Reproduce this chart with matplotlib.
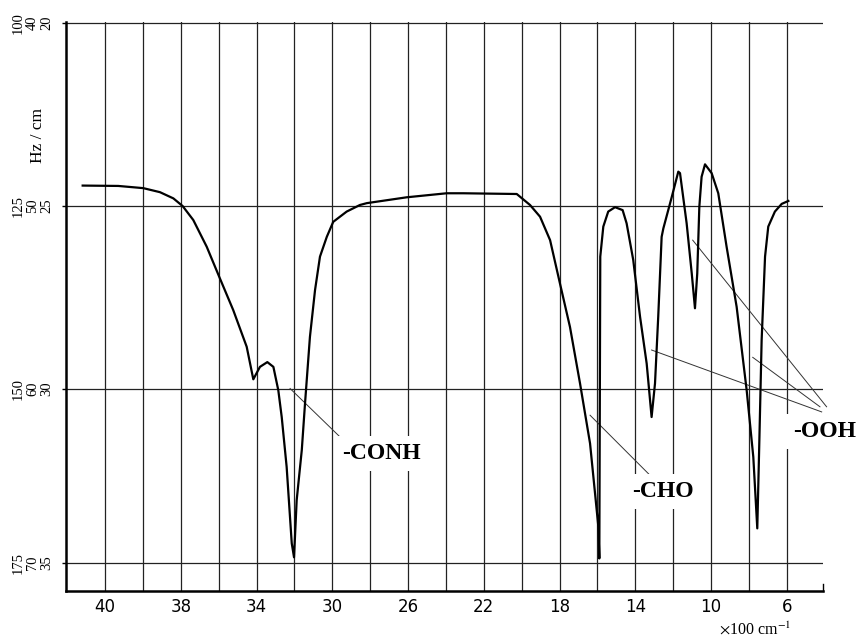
import matplotlib
matplotlib.use("Agg")
import matplotlib.pyplot as plt

# trace (x in axis units, y on the 20..35 scale, down = absorption)
wave = [43.18, 41.30, 39.98, 39.10, 38.39, 37.90, 37.34, 36.63, 35.97, 35.23,
        34.52, 34.17, 33.82, 33.43, 33.11, 32.85, 32.67, 32.41, 32.14, 32.02,
        31.88, 31.61, 31.44, 31.31, 31.18, 30.91, 30.65, 30.29, 29.95, 29.24,
        28.54, 28.18, 26.07, 23.96, 23.08, 20.26, 19.56, 19.03, 18.50, 17.98,
        17.45, 16.92, 16.39, 15.95, 15.90, 15.85, 15.69, 15.43, 15.07, 14.67,
        14.46, 14.11, 13.75, 13.40, 13.14, 12.96, 12.79, 12.61, 12.52, 12.08,
        11.73, 11.64, 11.29, 11.02, 10.85, 10.73, 10.62, 10.50, 10.32, 9.97,
        9.62, 9.18, 8.65, 8.12, 7.77, 7.56, 7.45, 7.33, 7.15, 6.98,
        6.63, 6.27, 5.92]
signal = [24.45, 24.46, 24.52, 24.63, 24.80, 25.01, 25.39, 26.12, 26.94, 27.85,
          28.85, 29.74, 29.40, 29.27, 29.40, 30.04, 30.77, 32.13, 34.22, 34.60,
          33.04, 31.67, 30.40, 29.49, 28.58, 27.30, 26.39, 25.85, 25.44, 25.16,
          24.98, 24.93, 24.77, 24.66, 24.66, 24.68, 24.98, 25.30, 25.94, 27.12,
          28.31, 29.85, 31.49, 33.77, 34.63, 26.39, 25.57, 25.16, 25.04, 25.12,
          25.48, 26.48, 28.03, 29.31, 30.77, 29.85, 28.03, 25.85, 25.62, 24.77,
          24.07, 24.11, 25.48, 26.85, 27.80, 26.85, 25.03, 24.21, 23.87, 24.11,
          24.66, 26.12, 27.76, 30.04, 31.86, 33.81, 31.40, 28.67, 26.39, 25.57,
          25.16, 24.95, 24.87]

x_ticks = [42, 38, 34, 30, 26, 22, 18, 14, 10, 6]
x_labels = ["40", "38", "34", "30", "26", "22", "18", "14", "10", "6"]
x_grid = list(range(42, 5, -2))
y_ticks = [20, 25, 30, 34.75]
y_labels = ["100\n40\n20", "125\n50\n25", "150\n60\n30", "175\n70\n35"]

groups = ["-CONH", "-CHO", "-OOH"]
group_x = [29.50, 14.19, 5.69]
group_y = [31.77, 32.81, 31.17]

# leader lines from the peaks to the group names
lead_x0 = [32.23, 16.39, 10.97, 13.14, 7.80]
lead_y0 = [29.99, 30.72, 25.94, 28.94, 29.14]
lead_x1 = [29.38, 13.05, 3.90, 4.16, 4.25]
lead_y1 = [31.42, 32.45, 30.49, 30.63, 30.49]

serif = "Liberation Serif"

fig = plt.figure(figsize=(8.6, 6.38), dpi=100)
ax = fig.add_axes([66 / 860, 1 - 591 / 638, (823 - 66) / 860, (591 - 21.5) / 638])

ax.set_xlim(44.06, 4.09)
ax.set_ylim(35.52, 19.97)

ax.set_xticks(x_ticks)
ax.set_xticklabels(x_labels, fontsize=12, family="DejaVu Sans")
ax.set_xticks(x_grid, minor=True)
ax.tick_params(axis="x", which="both", length=0, pad=5)
ax.set_yticks(y_ticks)
ax.set_yticklabels(y_labels, fontsize=10.5, family=serif, rotation=90,
                   va="center", ha="center", linespacing=1.13)
ax.tick_params(axis="y", length=3, width=1, pad=21)

ax.grid(axis="x", which="both", color="#222222", lw=0.9, zorder=0)
ax.grid(axis="y", color="#222222", lw=0.9, zorder=0)
ax.set_axisbelow(True)

for side in ["top", "right"]:
    ax.spines[side].set_visible(False)
for side in ["left", "bottom"]:
    ax.spines[side].set_linewidth(1.8)
ax.axvline(4.09, ymin=0, ymax=0.012, color="black", lw=1, clip_on=False)

ax.plot(wave, signal, color="black", lw=1.6, zorder=3)

for i in range(len(lead_x0)):
    ax.plot([lead_x0[i], lead_x1[i]], [lead_y0[i], lead_y1[i]],
            color="#333333", lw=0.7, zorder=2, clip_on=False)

for name, gx, gy in zip(groups, group_x, group_y):
    ax.text(gx, gy, name, fontsize=17, family=serif, fontweight="bold",
            ha="left", va="center", zorder=4,
            bbox=dict(boxstyle="square,pad=0.3", fc="white", ec="none"))

fig.text(38 / 860, 1 - 135 / 638, "Hz / cm", rotation=90, fontsize=12.5,
         family=serif, ha="center", va="center")
plt.rcParams["mathtext.fontset"] = "stix"
fig.text(755 / 860, 1 - 630 / 638, r"$\times$100 cm$^{-1}$", fontsize=11.5,
         family=serif, ha="center", va="center")

fig.savefig("out.png", dpi=100)
